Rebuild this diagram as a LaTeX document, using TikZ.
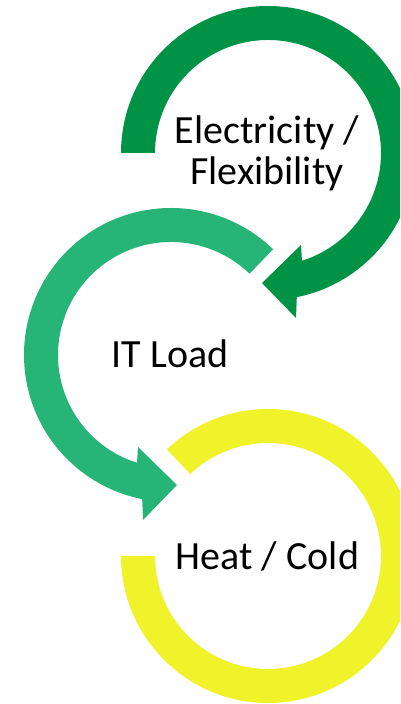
\documentclass[tikz,border=0pt]{standalone}
\usepackage{fontspec}
\setmainfont{Carlito}
\definecolor{darkgr}{RGB}{0,146,69}
\definecolor{midgr}{RGB}{38,181,118}
\definecolor{yell}{RGB}{240,242,42}
\begin{document}
\begin{tikzpicture}[x=1pt,y=1pt,
  lbl/.style={font=\fontsize{40}{42}\selectfont, text=black, inner sep=0pt, anchor=base}]
\useasboundingbox (0,0) rectangle (400,704);
\clip (0,0) rectangle (400,704);
% bottom yellow ring (no arrowhead)
\fill[yell, shift={(268pt,148pt)}]
  (133.5:147pt) arc[start angle=133.5, end angle=-180, radius=147pt]
  -- (-180:113pt) arc[start angle=-180, end angle=133.5, radius=113pt] -- cycle;
% middle green circular arrow (counter-clockwise)
\fill[midgr, shift={(171pt,349pt)}]
  (46:147pt) arc[start angle=46, end angle=258.7, radius=147pt]
  -- (-28pt,-165pt) -- (6pt,-130pt) -- (-33pt,-92pt)
  -- (252.5:113pt) arc[start angle=252.5, end angle=46, radius=113pt] -- cycle;
% top dark green circular arrow (clockwise)
\fill[darkgr, shift={(268pt,551pt)}]
  (180:147pt) arc[start angle=180, end angle=-78.7, radius=147pt]
  -- (28pt,-165pt) -- (-6pt,-130pt) -- (33pt,-92pt)
  -- (-72.5:113pt) arc[start angle=-72.5, end angle=180, radius=113pt] -- cycle;
% labels
\node[lbl] (elec) at (267,560.7) {Electricity /};
\node[lbl] (flex) at (267,519) {Flexibility};
\node[lbl] (it) at (170,336) {IT Load};
\node[lbl] (heat) at (267.5,134) {Heat / Cold};
\end{tikzpicture}
\end{document}
